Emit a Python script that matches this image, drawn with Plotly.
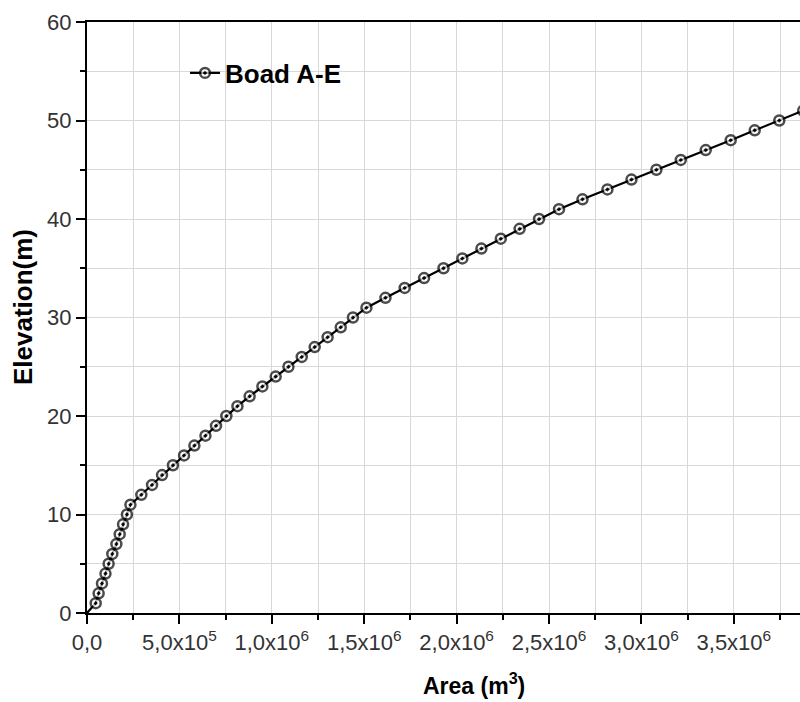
import plotly.graph_objects as go

# Data
elevation = list(range(0, 52))
area_mm3 = [0.0, 0.047, 0.063, 0.081, 0.100, 0.117, 0.137, 0.159, 0.177, 0.195,
            0.216, 0.235, 0.294, 0.352, 0.406, 0.465, 0.525, 0.581, 0.641, 0.698,
            0.754, 0.814, 0.880, 0.949, 1.021, 1.090, 1.162, 1.232, 1.302, 1.373,
            1.439, 1.512, 1.615, 1.719, 1.824, 1.929, 2.031, 2.134, 2.239, 2.341,
            2.446, 2.554, 2.681, 2.816, 2.946, 3.081, 3.213, 3.348, 3.483, 3.613,
            3.746, 3.875]
area = [v * 1e6 for v in area_mm3]
series_name = "Boad A-E"

x_tickvals = [0, 5e5, 1e6, 1.5e6, 2e6, 2.5e6, 3e6, 3.5e6]
x_ticktext = ["0,0", "5,0x10<sup>5</sup>", "1,0x10<sup>6</sup>", "1,5x10<sup>6</sup>",
              "2,0x10<sup>6</sup>", "2,5x10<sup>6</sup>", "3,0x10<sup>6</sup>",
              "3,5x10<sup>6</sup>"]

marker_sizes = [0] + [10] * (len(elevation) - 1)

fig = go.Figure()
fig.add_trace(go.Scatter(
    x=area, y=elevation, name=series_name, mode="lines+markers",
    line=dict(color="black", width=2.2),
    marker=dict(symbol="circle-dot", size=marker_sizes, color="white",
                line=dict(color="black", width=2.5)),
))

tick_font = dict(family="Liberation Sans, Arial, sans-serif", size=22, color="#333333")
grid_col = "#d8d8d8"

fig.update_layout(
    width=800, height=702,
    margin=dict(l=87, r=0, t=22, b=89),
    paper_bgcolor="white", plot_bgcolor="white",
    showlegend=True,
    legend=dict(x=(185 - 87) / 713, y=(613 - 73) / 591, xanchor="left", yanchor="middle",
                bgcolor="rgba(0,0,0,0)",
                font=dict(family="Liberation Sans, Arial, sans-serif", size=26,
                          color="black", weight="bold")),
    xaxis=dict(range=[0, 3.858e6], tickmode="array", tickvals=x_tickvals,
               ticktext=x_ticktext, tickfont=tick_font,
               showline=True, linecolor="black", linewidth=2, mirror=True,
               ticks="outside", ticklen=9, tickwidth=2, tickcolor="black",
               showgrid=True, gridcolor=grid_col, gridwidth=1, zeroline=False,
               minor=dict(tickmode="linear", tick0=0, dtick=2.5e5, ticks="outside",
                          ticklen=5, tickwidth=2, tickcolor="black",
                          showgrid=True, gridcolor=grid_col, gridwidth=1)),
    yaxis=dict(range=[0, 60], tickmode="linear", tick0=0, dtick=10,
               tickfont=tick_font,
               showline=True, linecolor="black", linewidth=2, mirror=False,
               ticks="outside", ticklen=9, tickwidth=2, tickcolor="black",
               showgrid=True, gridcolor=grid_col, gridwidth=1, zeroline=False,
               minor=dict(tickmode="linear", tick0=0, dtick=5, ticks="outside",
                          ticklen=5, tickwidth=2, tickcolor="black",
                          showgrid=True, gridcolor=grid_col, gridwidth=1)),
    annotations=[
        dict(text="<b>Area (m<sup>3</sup>)</b>", xref="paper", yref="paper",
             x=(474 - 87) / 713, y=(613 - 684) / 591, xanchor="center", yanchor="middle",
             showarrow=False,
             font=dict(family="Liberation Sans, Arial, sans-serif", size=23, color="black")),
        dict(text="<b>Elevation(m)</b>", xref="paper", yref="paper",
             x=(23 - 87) / 713, y=(613 - 307) / 591, xanchor="center", yanchor="middle",
             textangle=-90, showarrow=False,
             font=dict(family="Liberation Sans, Arial, sans-serif", size=26, color="black")),
    ],
)

fig.write_html("out.html")
